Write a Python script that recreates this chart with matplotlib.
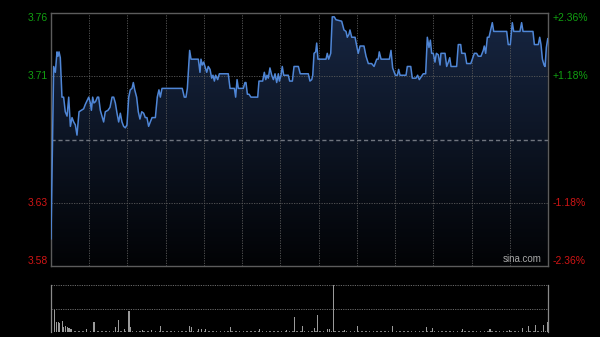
import matplotlib
matplotlib.use("Agg")
import matplotlib.pyplot as plt
import numpy as np

# minute of session (0-390) and price
minutes = [0, 2.1, 3.4, 4.7, 5.5, 6.3, 7.3, 8.6, 9.9, 11.2, 12.6, 13.9, 15.2, 16.5, 17.8, 19.1, 20.4,
           22.0, 23.8, 25.6, 26.9, 28.5, 29.6, 30.9, 31.7, 32.7, 33.7, 35.0, 36.4, 37.4, 38.7, 40.0,
           41.3, 42.6, 44.7, 46.3, 47.9, 49.2, 50.5, 51.8, 53.1, 54.4, 55.7, 57.0, 58.3, 59.6, 61.0,
           62.2, 63.6, 64.6, 65.7, 67.2, 68.5, 69.8, 71.2, 72.7, 74.0, 75.3, 76.6, 77.9, 79.3, 81.9,
           83.4, 84.7, 85.8, 87.1, 103.0, 104.6, 105.9, 107.0, 108.8, 109.9, 115.6, 116.9, 117.7,
           118.7, 119.8, 120.8, 122.2, 123.4, 124.8, 126.1, 127.1, 128.2, 129.2, 130.8, 132.1, 139.1,
           140.5, 143.9, 144.9, 146.0, 147.0, 150.9, 152.2, 153.0, 154.1, 155.4, 156.9, 162.2, 163.2,
           166.1, 167.4, 168.5, 169.5, 170.5, 171.8, 173.2, 174.5, 175.8, 177.1, 178.4, 179.2, 180.5,
           181.5, 182.6, 186.2, 187.3, 189.4, 190.7, 194.1, 195.6, 201.9, 203.2, 204.6, 205.4, 206.4,
           207.7, 208.5, 209.5, 215.8, 216.8, 217.9, 219.5, 220.7, 222.3, 223.6, 228.1, 229.9, 231.5,
           232.5, 233.8, 234.6, 236.0, 238.6, 239.9, 241.1, 242.5, 245.6, 247.2, 249.0, 251.6, 253.5,
           255.6, 256.8, 257.6, 259.0, 265.5, 266.8, 268.1, 270.2, 271.8, 272.8, 273.9, 278.6, 279.6,
           282.3, 283.5, 286.4, 287.7, 289.0, 292.1, 294.0, 295.3, 296.6, 297.7, 298.7, 300.0, 301.3,
           302.4, 303.9, 305.3, 306.0, 309.2, 310.5, 311.8, 312.9, 313.9, 318.3, 319.6, 321.5, 322.3,
           324.9, 326.2, 329.4, 330.6, 332.2, 334.0, 335.3, 337.4, 339.2, 340.0, 341.1, 342.4, 343.7,
           345.0, 346.3, 347.4, 357.6, 358.8, 360.4, 362.0, 363.1, 368.0, 369.3, 370.4, 378.2, 379.3,
           382.4, 383.5, 384.5, 385.6, 386.9, 387.7, 388.7, 389.8]
prices = [3.602, 3.720, 3.716, 3.730, 3.727, 3.730, 3.726, 3.699, 3.699, 3.689, 3.686, 3.699, 3.679,
          3.685, 3.682, 3.680, 3.673, 3.689, 3.690, 3.691, 3.694, 3.697, 3.699, 3.695, 3.690, 3.699,
          3.695, 3.696, 3.699, 3.699, 3.690, 3.686, 3.682, 3.689, 3.690, 3.692, 3.699, 3.699, 3.695,
          3.688, 3.682, 3.688, 3.682, 3.679, 3.678, 3.680, 3.699, 3.704, 3.705, 3.709, 3.704, 3.699,
          3.689, 3.684, 3.689, 3.688, 3.685, 3.685, 3.679, 3.682, 3.685, 3.685, 3.699, 3.704, 3.699,
          3.705, 3.705, 3.699, 3.699, 3.705, 3.731, 3.725, 3.725, 3.716, 3.725, 3.721, 3.723, 3.720,
          3.716, 3.720, 3.718, 3.712, 3.714, 3.710, 3.714, 3.711, 3.715, 3.715, 3.705, 3.705, 3.699,
          3.711, 3.705, 3.705, 3.709, 3.709, 3.701, 3.701, 3.699, 3.699, 3.710, 3.710, 3.716, 3.711,
          3.714, 3.712, 3.719, 3.714, 3.711, 3.715, 3.709, 3.715, 3.710, 3.714, 3.720, 3.714, 3.714,
          3.710, 3.710, 3.720, 3.720, 3.715, 3.715, 3.710, 3.711, 3.714, 3.729, 3.730, 3.736, 3.725,
          3.725, 3.729, 3.725, 3.729, 3.754, 3.754, 3.752, 3.751, 3.745, 3.744, 3.740, 3.742, 3.745,
          3.740, 3.740, 3.734, 3.729, 3.734, 3.734, 3.727, 3.722, 3.722, 3.720, 3.725, 3.725, 3.730,
          3.725, 3.725, 3.731, 3.719, 3.714, 3.714, 3.718, 3.714, 3.714, 3.720, 3.720, 3.712, 3.712,
          3.714, 3.711, 3.715, 3.715, 3.740, 3.733, 3.738, 3.729, 3.729, 3.723, 3.729, 3.728, 3.721,
          3.729, 3.729, 3.720, 3.723, 3.726, 3.720, 3.720, 3.735, 3.735, 3.729, 3.729, 3.722, 3.722,
          3.725, 3.729, 3.729, 3.727, 3.727, 3.731, 3.734, 3.729, 3.740, 3.740, 3.745, 3.750, 3.744,
          3.744, 3.735, 3.735, 3.750, 3.744, 3.744, 3.750, 3.744, 3.744, 3.735, 3.735, 3.740, 3.735,
          3.725, 3.721, 3.720, 3.733, 3.739]

prev_close = 3.67
pct_max = 2.36
left_ticks = [3.76, 3.71, 3.63, 3.58]
right_ticks = ["+2.36%", "+1.18%", "-1.18%", "-2.36%"]

# volume (relative to max = 100)
vol_minutes = [0, 3, 4.5, 5.7, 7, 8.9, 10, 11.5, 12.8, 14.1, 15.7, 28, 33.7, 50.8, 52.8, 58, 61.2,
               62.5, 72, 79, 86, 109, 110, 116, 118, 121, 141, 163.5, 185, 191, 197.5, 207, 209.3,
               216.8, 218.4, 221.5, 230, 240.4, 268, 294.8, 299.5, 322.8, 344.5, 360, 370, 375, 380,
               386.3, 389.5]
vol_values = [36, 48, 22, 21, 19, 24, 11, 13, 11, 9, 7, 7, 21, 10, 26, 7, 45, 11, 5, 5, 12, 12, 10, 6,
              6, 6, 11, 6, 4, 31, 12, 8, 36, 6, 6, 100, 4, 12, 12, 10, 9, 6, 6, 4, 8, 12, 15, 14, 22]
base_vol = [3, 2, 3, 3, 2, 2, 3, 2, 3, 2, 2, 3, 2, 3, 3, 2, 2, 3, 2, 2, 3, 3, 2, 2, 3, 2, 3, 2, 2, 3,
            2, 3, 2, 2, 3, 2, 3, 3, 2, 2, 3, 2, 2, 3, 2, 3, 2, 2, 3, 3, 2, 2, 3, 2, 3, 2, 2, 3, 2, 3,
            3, 2, 2, 3, 2, 2, 3, 2, 3, 3, 2, 2, 3, 2, 3, 2, 2, 3, 3, 2, 2, 3, 2, 3, 2, 2, 3, 2, 3, 3,
            2, 3, 2, 2, 3, 2, 3, 2, 2, 3, 3, 2, 3, 2, 2, 3, 2, 3, 2, 3, 3, 2, 2, 3, 3, 2, 3, 2, 3, 3,
            2, 3, 3, 2, 3, 3, 2, 3]

ymin = prev_close * (1 - pct_max / 100)
ymax = prev_close * (1 + pct_max / 100)

fig = plt.figure(figsize=(6, 3.37), dpi=100, facecolor="black")
ax = fig.add_axes([51 / 600, 1 - 266 / 337, 497 / 600, 253 / 337])
ax.set_facecolor("black")
ax.set_xlim(0, 390)
ax.set_ylim(ymin, ymax)

# gradient fill under the price line
poly = ax.fill_between(minutes, prices, ymin, color="none", lw=0)
grad = np.linspace(1, 0, 256).reshape(-1, 1)
cmap = matplotlib.colors.LinearSegmentedColormap.from_list("g", ["#020305", "#172642"])
im = ax.imshow(grad, extent=[0, 390, ymin, ymax], aspect="auto", cmap=cmap, origin="upper",
               zorder=1)
im.set_clip_path(poly.get_paths()[0], transform=ax.transData)

ax.plot(minutes, prices, color="#4f86d6", lw=1.1, zorder=3)

# grid
for m in range(30, 390, 30):
    ax.axvline(m, color="#5a5a5a", lw=0.6, ls=(0, (1.5, 1.5)), zorder=2)
for v in [prev_close * (1 + 1.18 / 100), prev_close * (1 - 1.18 / 100)]:
    ax.axhline(v, color="#5a5a5a", lw=0.6, ls=(0, (1.5, 1.5)), zorder=2)
ax.axhline(prev_close, color="#70757f", lw=1.0, ls=(0, (3, 2)), zorder=2)

for s in ax.spines.values():
    s.set_color("#5c5c5c")
    s.set_linewidth(1)
ax.set_xticks([])
ax.set_yticks([])

fp = dict(fontsize=7.5, family="Liberation Sans")
tick_y = [ymax, prev_close * 1.0118, prev_close * 0.9882, ymin]
vas = ["top", "center", "center", "bottom"]
cols = ["#11a011", "#11a011", "#d01515", "#d01515"]
for lab, rl, yv, va, c in zip(left_ticks, right_ticks, tick_y, vas, cols):
    ax.text(-3 / 497 * 390, yv, "%.2f" % lab, ha="right", va=va, color=c, **fp)
    ax.text(390 + 5 / 497 * 390, yv, rl, ha="left", va=va, color=c, **fp)

ax.text(385, ymin + 0.0015, "sina.com", ha="right", va="bottom", color="#a8a8a8",
        fontsize=7, family="Liberation Sans", zorder=4)

# volume panel
vx = fig.add_axes([51 / 600, 1 - 332 / 337, 497 / 600, 47 / 337])
vx.set_facecolor("black")
vx.set_xlim(0, 390)
vx.set_ylim(0, 100)
base_x = [16 + 3 * i for i in range(len(base_vol))]
vx.bar(base_x, base_vol, width=1.2, color="#7a7a7a", lw=0)
vx.bar(vol_minutes, vol_values, width=0.9, color="#9a9a9a", lw=0)
vx.axhline(100, color="#6a6a6a", lw=0.7, ls=(0, (1.2, 1.2)))
vx.axhline(50, color="#6a6a6a", lw=0.7, ls=(0, (1.2, 1.2)))
for k in ["top", "bottom"]:
    vx.spines[k].set_visible(False)
for k in ["left", "right"]:
    vx.spines[k].set_color("#8a8a8a")
    vx.spines[k].set_linewidth(0.9)
vx.set_xticks([])
vx.set_yticks([])

fig.savefig("out.png", dpi=100, facecolor="black")
